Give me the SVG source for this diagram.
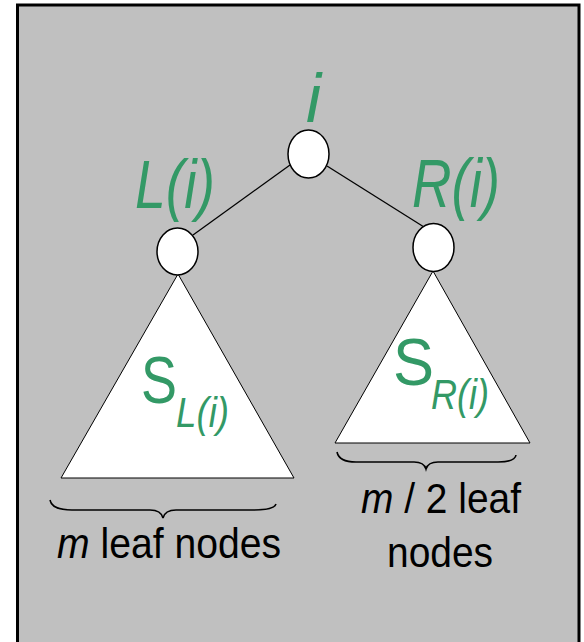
<svg xmlns="http://www.w3.org/2000/svg" width="584" height="642" viewBox="0 0 584 642">
  <style>
    .frame { fill: #c0c0c0; stroke: #000; stroke-width: 3; }
    .node { fill: #fff; stroke: #000; stroke-width: 1.5; }
    .tri { fill: #fff; stroke: #000; stroke-width: 1; }
    .edge { stroke: #000; stroke-width: 1.3; fill: none; }
    .brace { stroke: #000; stroke-width: 1.6; fill: none; }
    .lbl { font-family: "Liberation Sans", Arial, sans-serif; fill: #339966; }
    .cap { font-family: "Liberation Sans", Arial, sans-serif; fill: #000; font-size: 42px; }
    .it { font-style: italic; }
  </style>

  <rect width="584" height="642" fill="#fff"/>
  <rect class="frame" x="17.5" y="5" width="561.5" height="645"/>

  <!-- edges -->
  <g id="connectors">
    <line class="edge" x1="290" y1="165" x2="193" y2="235"/>
    <line class="edge" x1="327" y1="166" x2="424" y2="227"/>
  </g>

  <!-- subtrees -->
  <g id="subtree-left">
    <polygon class="tri" points="178,274 294,478 61,478"/>
    <text class="lbl" x="141" y="403" font-size="66" textLength="36" lengthAdjust="spacingAndGlyphs">S</text>
    <text class="lbl it" x="176" y="427" font-size="43" textLength="53" lengthAdjust="spacingAndGlyphs">L(i)</text>
  </g>
  <g id="subtree-right">
    <polygon class="tri" points="433,271 530,443 335,443"/>
    <text class="lbl" x="393" y="385" font-size="66" textLength="41" lengthAdjust="spacingAndGlyphs">S</text>
    <text class="lbl it" x="431" y="409" font-size="43" textLength="58" lengthAdjust="spacingAndGlyphs">R(i)</text>
  </g>

  <!-- tree nodes -->
  <g id="node-root">
    <ellipse class="node" cx="308.5" cy="154" rx="20.5" ry="24"/>
    <text class="lbl it" x="306" y="122" font-size="68">i</text>
  </g>
  <g id="node-left">
    <ellipse class="node" cx="177.5" cy="251.5" rx="20.5" ry="23.5"/>
    <text class="lbl it" x="135" y="208" font-size="68" textLength="80" lengthAdjust="spacingAndGlyphs">L(i)</text>
  </g>
  <g id="node-right">
    <ellipse class="node" cx="433.5" cy="247.5" rx="20.5" ry="24"/>
    <text class="lbl it" x="412" y="207" font-size="68" textLength="88" lengthAdjust="spacingAndGlyphs">R(i)</text>
  </g>

  <!-- leaf counts -->
  <g id="count-left">
    <path class="brace" d="M50,500 Q52,510 72,510 L150,510 Q161,510 163,518 Q165,510 176,510 L254,510 Q274,510 276,504"/>
    <text class="cap" x="57" y="558" textLength="224" lengthAdjust="spacingAndGlyphs"><tspan class="it">m</tspan> leaf nodes</text>
  </g>
  <g id="count-right">
    <path class="brace" d="M337,452 Q339,462 356,462 L414,462 Q424,462 426,469 Q428,462 438,462 L498,462 Q515,462 516,455"/>
    <text class="cap" x="361" y="513" textLength="160" lengthAdjust="spacingAndGlyphs"><tspan class="it">m</tspan> / 2 leaf</text>
    <text class="cap" x="387" y="567" textLength="106" lengthAdjust="spacingAndGlyphs">nodes</text>
  </g>
</svg>
